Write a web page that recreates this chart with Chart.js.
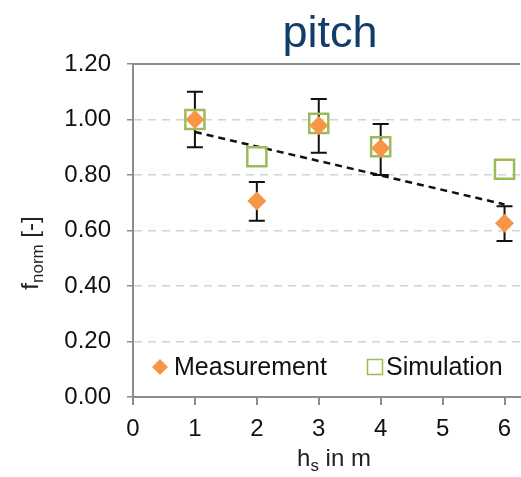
<!DOCTYPE html>
<html>
<head>
<meta charset="utf-8">
<script src="https://cdn.jsdelivr.net/npm/chart.js@4/dist/chart.umd.min.js"></script>
<style>
  html, body { margin: 0; padding: 0; background: #fff; }
  #wrap { width: 521px; height: 477px; }
</style>
</head>
<body>
<div id="wrap"><canvas id="pitchChart" width="521" height="477"></canvas></div>
<script>
// values
const heights = [1, 2, 3, 4, 6];
const measurement = [1.00, 0.706, 0.978, 0.896, 0.626];
const measUpper = [1.10, 0.775, 1.074, 0.984, 0.687];
const measLower = [0.90, 0.635, 0.880, 0.800, 0.562];
const simulation = [1.00, 0.866, 0.986, 0.902, 0.821];
const trendX = [1, 6];
const trendY = [0.955, 0.694];
const yTicks = [0, 0.2, 0.4, 0.6, 0.8, 1.0, 1.2];

const orange = '#f79646';
const green = '#9bbb59';
const fontFamily = '"Liberation Sans", Arial, sans-serif';

const toPoints = (xs, ys) => xs.map((x, i) => ({ x: x, y: ys[i] }));

// error bars under the measurement markers
const errorBars = {
    id: 'errorBars',
    beforeDatasetsDraw(chart) {
        const ctx = chart.ctx;
        const xs = chart.scales.x, ys = chart.scales.y;
        ctx.save();
        ctx.strokeStyle = '#111';
        ctx.lineWidth = 2;
        heights.forEach((h, i) => {
            const px = xs.getPixelForValue(h);
            const top = ys.getPixelForValue(measUpper[i]);
            const bot = ys.getPixelForValue(measLower[i]);
            ctx.beginPath();
            ctx.moveTo(px, top); ctx.lineTo(px, bot);
            ctx.moveTo(px - 8, top); ctx.lineTo(px + 8, top);
            ctx.moveTo(px - 8, bot); ctx.lineTo(px + 8, bot);
            ctx.stroke();
        });
        ctx.restore();
    }
};

// titles with subscripts, top frame line, legend inside the plot
const decorations = {
    id: 'decorations',
    afterDraw(chart) {
        const ctx = chart.ctx;
        const area = chart.chartArea;
        ctx.save();

        ctx.strokeStyle = '#8c8c8c';
        ctx.lineWidth = 2;
        ctx.beginPath();
        ctx.moveTo(area.left, area.top);
        ctx.lineTo(area.right, area.top);
        ctx.stroke();

        ctx.fillStyle = '#123d68';
        ctx.font = '45px ' + fontFamily;
        ctx.textAlign = 'center';
        ctx.textBaseline = 'alphabetic';
        ctx.fillText('pitch', 330, 47);

        ctx.fillStyle = '#222';
        drawSubLabel(ctx, 'h', 's', ' in m', 334, 466, 0);
        drawSubLabel(ctx, 'f', 'norm', ' [-]', 38, 253, -Math.PI / 2);

        // legend
        const ly = 367;
        ctx.fillStyle = orange;
        ctx.beginPath();
        ctx.moveTo(160, ly - 8); ctx.lineTo(168, ly); ctx.lineTo(160, ly + 8); ctx.lineTo(152, ly);
        ctx.closePath();
        ctx.fill();
        ctx.font = '25px ' + fontFamily;
        ctx.textAlign = 'left';
        ctx.textBaseline = 'middle';
        ctx.fillStyle = '#111';
        ctx.fillText('Measurement', 174, ly + 1);
        ctx.strokeStyle = green;
        ctx.lineWidth = 1.5;
        ctx.strokeRect(367.5, ly - 7.5, 15, 15);
        ctx.fillText('Simulation', 386, ly + 1);

        ctx.restore();
    }
};

function drawSubLabel(ctx, main, sub, rest, cx, cy, rot) {
    const big = '24px ' + fontFamily;
    const small = '17px ' + fontFamily;
    ctx.save();
    ctx.translate(cx, cy);
    ctx.rotate(rot);
    ctx.font = big;
    const w1 = ctx.measureText(main).width;
    const w3 = ctx.measureText(rest).width;
    ctx.font = small;
    const w2 = ctx.measureText(sub).width;
    let x = -(w1 + w2 + w3) / 2;
    ctx.textAlign = 'left';
    ctx.textBaseline = 'alphabetic';
    ctx.font = big;
    ctx.fillText(main, x, 0);
    x += w1;
    ctx.font = small;
    ctx.fillText(sub, x, 5);
    x += w2;
    ctx.font = big;
    ctx.fillText(rest, x, 0);
    ctx.restore();
}

new Chart(document.getElementById('pitchChart'), {
    type: 'scatter',
    data: {
        datasets: [
            {
                label: 'Trend',
                type: 'line',
                data: toPoints(trendX, trendY),
                borderColor: '#111',
                borderWidth: 2.5,
                borderDash: [7, 5],
                pointRadius: 0,
                fill: false,
                order: 3
            },
            {
                label: 'Simulation',
                data: toPoints(heights, simulation),
                pointStyle: 'rect',
                pointRadius: 13.5,
                pointHoverRadius: 13.5,
                backgroundColor: 'rgba(0,0,0,0)',
                borderColor: green,
                borderWidth: 2.5,
                clip: false,
                order: 2
            },
            {
                label: 'Measurement',
                data: toPoints(heights, measurement),
                pointStyle: 'rectRot',
                pointRadius: 9.5,
                pointHoverRadius: 9.5,
                backgroundColor: orange,
                borderColor: orange,
                borderWidth: 0,
                order: 1
            }
        ]
    },
    options: {
        responsive: false,
        animation: false,
        layout: { autoPadding: false, padding: { top: 64, right: 1, left: 0, bottom: 0 } },
        plugins: {
            legend: { display: false },
            title: { display: false },
            tooltip: { enabled: false }
        },
        scales: {
            x: {
                type: 'linear',
                min: 0,
                max: 6.25,
                afterFit: (s) => { s.height = 80; s.paddingLeft = 0; s.paddingRight = 0; },
                ticks: {
                    stepSize: 1,
                    includeBounds: false,
                    color: '#111',
                    padding: 10,
                    font: { family: fontFamily, size: 24 }
                },
                grid: {
                    drawOnChartArea: false,
                    drawTicks: true,
                    tickLength: 8,
                    tickColor: '#8c8c8c',
                    lineWidth: 2
                },
                border: { color: '#8c8c8c', width: 2 }
            },
            y: {
                min: 0,
                max: 1.2,
                afterFit: (s) => { s.width = 133; s.paddingTop = 0; s.paddingBottom = 0; },
                afterBuildTicks: (s) => { s.ticks = yTicks.map(v => ({ value: v })); },
                ticks: {
                    color: '#111',
                    padding: 16,
                    font: { family: fontFamily, size: 24 },
                    callback: (v) => v.toFixed(2)
                },
                grid: {
                    color: '#d4d4d4',
                    lineWidth: 1.5,
                    drawTicks: true,
                    tickLength: 6,
                    tickColor: '#8c8c8c',
                    tickBorderDash: []
                },
                border: { color: '#8c8c8c', width: 2, dash: [8, 6] }
            }
        }
    },
    plugins: [errorBars, decorations]
});
</script>
</body>
</html>
